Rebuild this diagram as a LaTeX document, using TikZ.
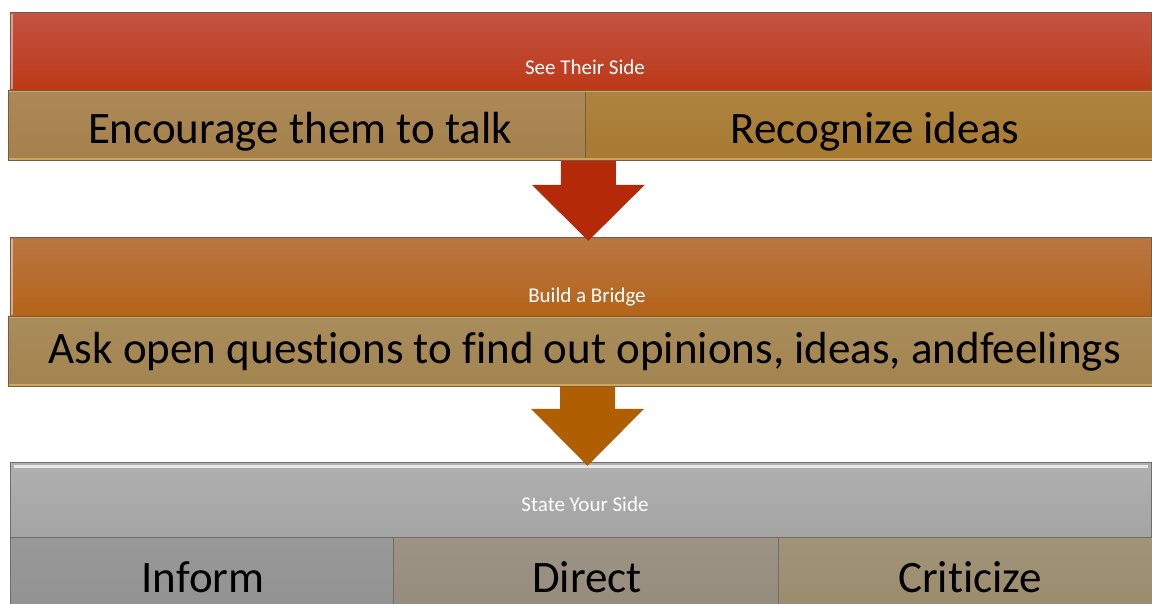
\documentclass[tikz,border=0pt]{standalone}
\usepackage{fontspec}
\setmainfont{Carlito}[Ligatures=NoCommon]
\usetikzlibrary{calc}
\definecolor{redtop}{HTML}{C35443}
\definecolor{redbot}{HTML}{BD3817}
\definecolor{ortop}{HTML}{B97643}
\definecolor{orbot}{HTML}{B46418}
\definecolor{graytop}{HTML}{B0B0B0}
\definecolor{graybot}{HTML}{A4A4A4}
\definecolor{goldA}{HTML}{A5804A}
\definecolor{goldB}{HTML}{A77A31}
\definecolor{goldC}{HTML}{A2844F}
\definecolor{grayA}{HTML}{919191}
\definecolor{grayB}{HTML}{958B7C}
\definecolor{grayC}{HTML}{9A8B6C}
\definecolor{arrowred}{HTML}{B42A08}
\definecolor{arroworange}{HTML}{B05E02}
\definecolor{edgebrown}{HTML}{7A5A44}
\definecolor{edgegray}{HTML}{6E6E6E}
\definecolor{goldedge}{HTML}{D8B060}
\tikzset{
  band/.style={rectangle, anchor=north west, inner sep=0pt, draw=edgebrown, line width=0.8pt},
  subbox/.style={rectangle, anchor=north west, inner sep=0pt, draw=edgebrown, line width=0.8pt},
  hdrtext/.style={text=white, font=\fontsize{21}{24}\selectfont, inner sep=0pt, anchor=base},
  subtext/.style={text=black, font=\fontsize{45}{50}\selectfont, inner sep=0pt, anchor=base},
  bevel/.style={white, opacity=0.45, line width=2pt},
  goldline/.style={goldedge, opacity=0.8, line width=1.5pt}
}
\begin{document}
\begin{tikzpicture}[x=1pt,y=-1pt]
\useasboundingbox (0,0) rectangle (1152,603);
\clip (0,0) rectangle (1152,603);
\fill[white] (0,0) rectangle (1152,603);

% ---------- band 1 ----------
\node[band, top color=redtop, bottom color=redbot, minimum width=1141pt, minimum height=78pt] (h1) at (10,12) {};
\draw[bevel] ([xshift=2pt,yshift=2pt]h1.south west) -- ([xshift=2pt,yshift=-2pt]h1.north west);
\node[hdrtext] (h1t) at (585,74) {See Their Side};
\node[subbox, top color=goldA!93!white, bottom color=goldA, minimum width=577pt, minimum height=70pt] (s1a) at (8,90) {};
\node[subbox, top color=goldB!93!white, bottom color=goldB, minimum width=567pt, minimum height=70pt] (s1b) at (585,90) {};
\draw[goldline] ([xshift=1pt,yshift=-1.5pt]s1a.north west) -- ([xshift=-1pt,yshift=-1.5pt]s1b.north east);
\draw[goldline] ([xshift=1pt,yshift=2pt]s1a.south west) -- ([xshift=-1pt,yshift=2pt]s1b.south east);
\node[subtext] (s1at) at (300,143) {Encourage them to talk};
\node[subtext] (s1bt) at (875,143) {Recognize ideas};

% ---------- band 2 ----------
\node[band, top color=ortop, bottom color=orbot, minimum width=1141pt, minimum height=79pt] (h2) at (10,237) {};
\draw[bevel] ([xshift=2pt,yshift=2pt]h2.south west) -- ([xshift=2pt,yshift=-2pt]h2.north west);
\node[hdrtext] (h2t) at (587,302) {Build a Bridge};
\node[subbox, top color=goldC!93!white, bottom color=goldC, minimum width=1144pt, minimum height=70pt] (s2) at (8,316) {};
\draw[goldline] ([xshift=1pt,yshift=-1.5pt]s2.north west) -- ([xshift=-1pt,yshift=-1.5pt]s2.north east);
\draw[goldline] ([xshift=1pt,yshift=2pt]s2.south west) -- ([xshift=-1pt,yshift=2pt]s2.south east);
\node[subtext] (s2t) at (585,363) {Ask open questions to find out opinions, ideas, andfeelings};

% ---------- arrow 1 ----------
\fill[arrowred] ($(s1a.south east)+(-25,0)$) coordinate (a1s) -- ++(55,0) -- ++(0,24) -- ++(29,0)
  -- ($(a1s)+(27.5,80)$) coordinate (a1tip) -- ($(a1s)+(-29,24)$) -- ($(a1s)+(0,24)$) -- cycle;

% ---------- band 3 ----------
\node[band, draw=edgegray, top color=graytop, bottom color=graybot, minimum width=1141pt, minimum height=75pt] (h3) at (10,462) {};
\draw[white, opacity=0.7, line width=3pt] ([xshift=4pt,yshift=-4pt]h3.north west) -- ([xshift=-4pt,yshift=-4pt]h3.north east);
\node[hdrtext] (h3t) at (585,511) {State Your Side};
\node[subbox, draw=edgegray, top color=grayA!93!white, bottom color=grayA, minimum width=383pt, minimum height=80pt] (s3a) at (10,537) {};
\node[subbox, draw=edgegray, top color=grayB!93!white, bottom color=grayB, minimum width=385pt, minimum height=80pt] (s3b) at (393,537) {};
\node[subbox, draw=edgegray, top color=grayC!93!white, bottom color=grayC, minimum width=376pt, minimum height=80pt] (s3c) at (778,537) {};
\node[subtext] (s3at) at (203,592) {Inform};
\node[subtext] (s3bt) at (587,592) {Direct};
\node[subtext] (s3ct) at (970,592) {Criticize};

% ---------- arrow 2 ----------
\fill[arroworange] ($(s2.south west)+(552,0)$) coordinate (a2s) -- ++(55,0) -- ++(0,22) -- ++(29,0)
  -- ($(a2s)+(27.5,79)$) coordinate (a2tip) -- ($(a2s)+(-29,22)$) -- ($(a2s)+(0,22)$) -- cycle;
\end{tikzpicture}
\end{document}
